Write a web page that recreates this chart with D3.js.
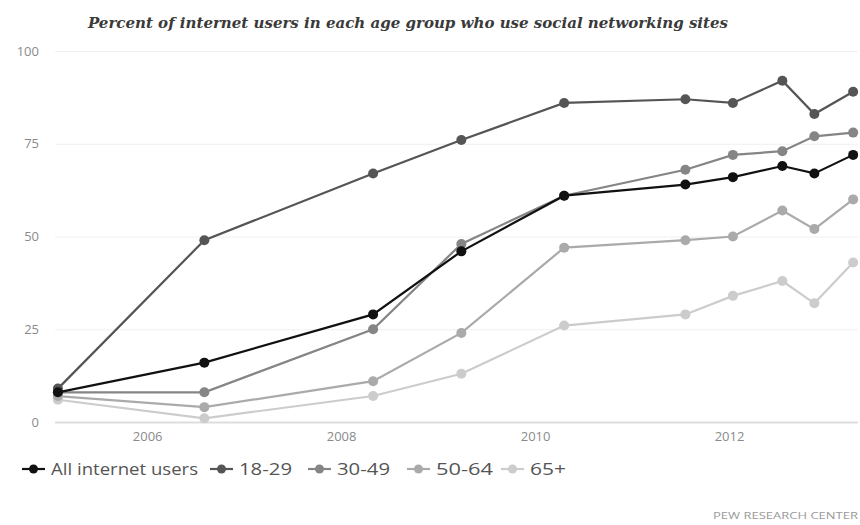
<!DOCTYPE html>
<html>
<head>
<meta charset="utf-8">
<script src="https://cdn.jsdelivr.net/npm/d3@7/dist/d3.min.js"></script>
<style>
  html, body { margin: 0; padding: 0; background: #fff; }
  svg { display: block; }
</style>
</head>
<body>
<svg id="chart" width="860" height="525"></svg>
<script>
// ---- data ----
const title = "Percent of internet users in each age group who use social networking sites";
const source = "PEW RESEARCH CENTER";
// survey dates (decimal years): Feb 2005, Aug 2006, May 2008, Apr 2009, May 2010, Aug 2011, Feb 2012, Aug 2012, Dec 2012, May 2013
const dates = [2005.08, 2006.59, 2008.33, 2009.24, 2010.30, 2011.55, 2012.04, 2012.55, 2012.88, 2013.28];
const seriesNames = ["All internet users", "18-29", "30-49", "50-64", "65+"];
const allUsers = [8, 16, 29, 46, 61, 64, 66, 69, 67, 72];
const age18to29 = [9, 49, 67, 76, 86, 87, 86, 92, 83, 89];
const age30to49 = [8, 8, 25, 48, 61, 68, 72, 73, 77, 78];
const age50to64 = [7, 4, 11, 24, 47, 49, 50, 57, 52, 60];
const age65plus = [6, 1, 7, 13, 26, 29, 34, 38, 32, 43];
const seriesValues = [allUsers, age18to29, age30to49, age50to64, age65plus];
const colors = ["#111111", "#555555", "#858585", "#aaaaaa", "#cccccc"];
const yTicks = [0, 25, 50, 75, 100];
const xTicks = [2006, 2008, 2010, 2012];

// ---- layout ----
const svg = d3.select("#chart");
const x = d3.scaleLinear().domain([2005.05, 2013.33]).range([55, 858]);
const y = d3.scaleLinear().domain([0, 100]).range([422, 51]);

// title
svg.append("text")
  .attr("x", 408).attr("y", 28)
  .attr("text-anchor", "middle")
  .attr("font-family", "DejaVu Serif Condensed, DejaVu Serif")
  .attr("font-style", "italic")
  .attr("font-weight", "bold")
  .attr("font-size", 15)
  .attr("fill", "#3a3a3a")
  .attr("textLength", 640)
  .attr("lengthAdjust", "spacingAndGlyphs")
  .text(title);

// gridlines + y labels
const yAxis = d3.axisLeft(y).tickValues(yTicks).tickSize(-(858 - 55)).tickPadding(16);
const gy = svg.append("g").attr("transform", "translate(55,0)").call(yAxis);
gy.select(".domain").remove();
gy.selectAll(".tick line")
  .attr("stroke", d => d === 0 ? "#dddddd" : "#f0f0f0")
  .attr("stroke-width", d => d === 0 ? 2 : 1);
gy.selectAll(".tick text")
  .attr("font-family", "Open Sans").attr("font-size", 13).attr("fill", "#8a8a8a");

// x axis labels
const xAxis = d3.axisBottom(x).tickValues(xTicks).tickFormat(d3.format("d")).tickSize(0).tickPadding(10);
const gx = svg.append("g").attr("transform", "translate(0,422)").call(xAxis);
gx.select(".domain").remove();
gx.selectAll(".tick text")
  .attr("font-family", "Open Sans").attr("font-size", 13).attr("fill", "#8a8a8a");

// lines (lightest first so dark lines stay on top)
const line = d3.line().x((d, i) => x(dates[i])).y(d => y(d));
const order = [4, 3, 2, 1, 0];
order.forEach(s => {
  const g = svg.append("g");
  g.append("path")
    .datum(seriesValues[s])
    .attr("fill", "none")
    .attr("stroke", colors[s])
    .attr("stroke-width", 2.2)
    .attr("d", line);
  g.selectAll("circle")
    .data(seriesValues[s])
    .join("circle")
    .attr("cx", (d, i) => x(dates[i]))
    .attr("cy", d => y(d))
    .attr("r", 5)
    .attr("fill", colors[s]);
});

// legend
const legendX = [22, 210, 308, 407, 501];
const legendW = [147, 53, 53, 57, 36];
const lg = svg.append("g").attr("transform", "translate(0,469)");
seriesNames.forEach((name, s) => {
  const g = lg.append("g").attr("transform", `translate(${legendX[s]},0)`);
  g.append("line").attr("x1", 0).attr("x2", 23).attr("y1", 0).attr("y2", 0)
    .attr("stroke", colors[s]).attr("stroke-width", 2.2);
  g.append("circle").attr("cx", 11.5).attr("cy", 0).attr("r", 4.5).attr("fill", colors[s]);
  g.append("text").attr("x", 29).attr("y", 5.5)
    .attr("font-family", "Open Sans").attr("font-size", 16).attr("fill", "#555")
    .attr("textLength", legendW[s]).attr("lengthAdjust", "spacingAndGlyphs")
    .text(name);
});

// source
svg.append("text")
  .attr("x", 858).attr("y", 519)
  .attr("text-anchor", "end")
  .attr("font-family", "Open Sans").attr("font-size", 9.5).attr("fill", "#9a9a9a")
  .attr("textLength", 145).attr("lengthAdjust", "spacingAndGlyphs")
  .text(source);
</script>
</body>
</html>
